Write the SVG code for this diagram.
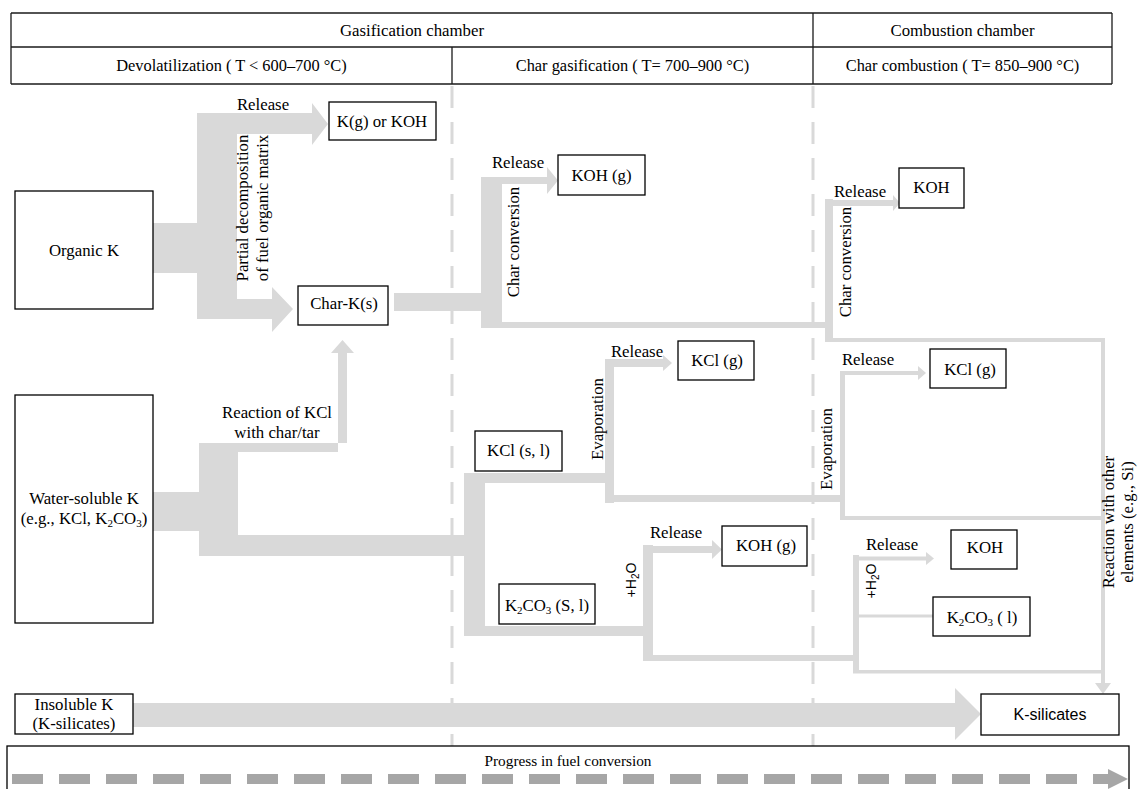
<svg xmlns="http://www.w3.org/2000/svg" width="1138" height="789" viewBox="0 0 1138 789">
  <style>
    .box { fill: #ffffff; stroke: #000000; stroke-width: 1.3; }
    .rule { stroke: #1a1a1a; stroke-width: 1.3; fill: none; }
    .flow { fill: #d9d9d9; stroke: none; }
    .zone { stroke: #d9d9d9; stroke-width: 3; stroke-dasharray: 22 14; fill: none; }
    .t { font-family: "Liberation Serif", "Times New Roman", serif; font-size: 16.8px; fill: #000; text-anchor: middle; }
    .h2 { font-size: 16.4px; }
    .pg { font-size: 15.3px; }
    .s { font-family: "Liberation Sans", Arial, sans-serif; }
  </style>

  <!-- header table -->
  <g id="header">
    <rect x="11" y="13" width="1101" height="71" fill="#fff" stroke="none"/>
    <line class="rule" x1="11" y1="13" x2="813" y2="13" stroke="#7f7f7f"/>
    <line class="rule" x1="813" y1="13" x2="1112" y2="13"/>
    <line class="rule" x1="11" y1="47" x2="1112" y2="47"/>
    <line class="rule" x1="11" y1="84" x2="1112" y2="84"/>
    <line class="rule" x1="11" y1="13" x2="11" y2="84"/>
    <line class="rule" x1="1112" y1="13" x2="1112" y2="84"/>
    <line class="rule" x1="813" y1="13" x2="813" y2="84"/>
    <line class="rule" x1="452" y1="47" x2="452" y2="84"/>
    <text class="t" x="412" y="36">Gasification chamber</text>
    <text class="t" x="962.5" y="36">Combustion chamber</text>
    <text class="t h2" x="231.5" y="71">Devolatilization ( T &lt; 600–700 °C)</text>
    <text class="t h2" x="632.5" y="71">Char gasification ( T= 700–900 °C)</text>
    <text class="t h2" x="962.5" y="71">Char combustion ( T= 850–900 °C)</text>
  </g>

  <!-- stage boundaries -->
  <g id="zones">
    <line class="zone" x1="452" y1="86" x2="452" y2="746"/>
    <line class="zone" x1="813" y1="86" x2="813" y2="746"/>
  </g>

  <!-- potassium flows -->
  <g id="connectors">
    <!-- organic K: release and char-K -->
    <polygon class="flow" points="153,223 197,223 197,113 312,113 312,103 328,124 312,145 312,134 237,134 237,299 272,299 272,287 293,309 272,332 272,319 197,319 197,273 153,273"/>
    <!-- char-K conversion in gasification -->
    <polygon class="flow" points="394,293 481,293 481,177 547,177 547,167 558,180.5 547,194 547,184 502,184 502,322 832,322 832,328 481,328 481,311 394,311"/>
    <!-- char conversion in combustion -->
    <rect class="flow" x="825" y="199" width="8" height="143"/>
    <rect class="flow" x="825" y="200" width="69" height="6"/>
    <polygon class="flow" points="893,195 900,203 893,211"/>
    <rect class="flow" x="825" y="338" width="280" height="4"/>
    <rect class="flow" x="1101" y="338" width="4" height="346"/>
    <polygon class="flow" points="1095,683 1111,683 1103,694"/>

    <!-- water-soluble K -->
    <polygon class="flow" points="153,492 199,492 199,443 347,443 347,353 354,353 342.5,340 331,353 338,353 338,452 238,452 238,535 464,535 464,556 199,556 199,531 153,531"/>
    <!-- KCl / K2CO3 split -->
    <rect class="flow" x="464" y="473" width="21" height="163"/>
    <rect class="flow" x="464" y="473" width="150" height="10"/>
    <rect class="flow" x="605" y="359" width="9" height="144"/>
    <rect class="flow" x="605" y="359" width="59" height="8"/>
    <polygon class="flow" points="663,355 672,363 663,371"/>
    <rect class="flow" x="605" y="495" width="240" height="7"/>
    <rect class="flow" x="464" y="626" width="189" height="10"/>
    <rect class="flow" x="643" y="545" width="10" height="116"/>
    <rect class="flow" x="643" y="546" width="70" height="7"/>
    <polygon class="flow" points="712,540 722,549.5 712,559"/>
    <rect class="flow" x="643" y="655" width="216" height="6"/>

    <!-- KCl in combustion -->
    <rect class="flow" x="840" y="371" width="5" height="149"/>
    <rect class="flow" x="840" y="371" width="79" height="4"/>
    <polygon class="flow" points="918,366 926,373 918,380"/>
    <rect class="flow" x="840" y="516" width="265" height="4"/>
    <!-- K2CO3 in combustion -->
    <rect class="flow" x="853" y="555" width="6" height="118"/>
    <rect class="flow" x="853" y="556.5" width="74" height="4"/>
    <polygon class="flow" points="926,552 934,558.5 926,565"/>
    <rect class="flow" x="859" y="614.5" width="74" height="3"/>
    <rect class="flow" x="853" y="670" width="252" height="3.5"/>

    <!-- insoluble K -->
    <polygon class="flow" points="133,703 955,703 955,688 981,714 955,740 955,727 133,727"/>

    <!-- flow labels -->
    <text class="t" x="263" y="110">Release</text>
    <text class="t" transform="translate(248,208) rotate(-90)">Partial decomposition</text>
    <text class="t" transform="translate(268,208) rotate(-90)">of fuel organic matrix</text>
    <text class="t" x="518" y="168">Release</text>
    <text class="t" transform="translate(519,242) rotate(-90)">Char conversion</text>
    <text class="t" x="860" y="197">Release</text>
    <text class="t" transform="translate(851,262) rotate(-90)">Char conversion</text>
    <text class="t" x="277" y="418">Reaction of KCl</text>
    <text class="t" x="277" y="438">with char/tar</text>
    <text class="t" x="637" y="357">Release</text>
    <text class="t" transform="translate(603,419) rotate(-90)">Evaporation</text>
    <text class="t" transform="translate(832,449) rotate(-90)">Evaporation</text>
    <text class="t" x="868" y="365">Release</text>
    <text class="t s" style="font-size:14px" transform="translate(636,580) rotate(-90)">+H<tspan dy="3" font-size="10">2</tspan><tspan dy="-3">O</tspan></text>
    <text class="t" x="676" y="538">Release</text>
    <text class="t s" style="font-size:14px" transform="translate(876,581) rotate(-90)">+H<tspan dy="3" font-size="10">2</tspan><tspan dy="-3">O</tspan></text>
    <text class="t" x="892" y="550">Release</text>
    <text class="t" transform="translate(1114,522) rotate(-90)">Reaction with other</text>
    <text class="t" transform="translate(1133,522) rotate(-90)">elements (e.g., Si)</text>
  </g>

  <!-- nodes -->
  <g id="organic-k">
    <rect class="box" x="15" y="191" width="138" height="118"/>
    <text class="t" x="84" y="256">Organic K</text>
  </g>
  <g id="water-soluble-k">
    <rect class="box" x="15" y="395" width="138" height="228"/>
    <text class="t" x="84" y="504">Water-soluble K</text>
    <text class="t" x="84" y="524">(e.g., KCl, K<tspan dy="3" font-size="11">2</tspan><tspan dy="-3">CO</tspan><tspan dy="3" font-size="11">3</tspan><tspan dy="-3">)</tspan></text>
  </g>
  <g id="insoluble-k">
    <rect class="box" x="15" y="694" width="118" height="40"/>
    <text class="t" x="74" y="710">Insoluble K</text>
    <text class="t" x="74" y="729">(K-silicates)</text>
  </g>
  <g id="kg-or-koh">
    <rect class="box" x="329" y="102" width="107" height="38"/>
    <text class="t" x="382" y="127">K(g) or KOH</text>
  </g>
  <g id="char-k">
    <rect class="box" x="298" y="286" width="90" height="39"/>
    <text class="t" x="344" y="309">Char-K(s)</text>
  </g>
  <g id="koh-g-char">
    <rect class="box" x="558" y="155" width="87" height="40"/>
    <text class="t" x="601.5" y="181">KOH (g)</text>
  </g>
  <g id="koh-combustion-char">
    <rect class="box" x="899" y="168" width="65" height="40"/>
    <text class="t" x="931.5" y="193">KOH</text>
  </g>
  <g id="kcl-sl">
    <rect class="box" x="475" y="431" width="87" height="40"/>
    <text class="t" x="518.5" y="456">KCl (s, l)</text>
  </g>
  <g id="kcl-g-gasification">
    <rect class="box" x="678" y="341" width="76" height="39"/>
    <text class="t" x="717" y="366">KCl (g)</text>
  </g>
  <g id="k2co3-sl">
    <rect class="box" x="499" y="584" width="96" height="40"/>
    <text class="t" x="547" y="611">K<tspan dy="3" font-size="11">2</tspan><tspan dy="-3">CO</tspan><tspan dy="3" font-size="11">3</tspan><tspan dy="-3"> (S, l)</tspan></text>
  </g>
  <g id="koh-g-gasification">
    <rect class="box" x="722" y="526" width="85" height="40"/>
    <text class="t" x="766" y="551">KOH (g)</text>
  </g>
  <g id="kcl-g-combustion">
    <rect class="box" x="930" y="349" width="76" height="39"/>
    <text class="t" x="970" y="375">KCl (g)</text>
  </g>
  <g id="koh-combustion">
    <rect class="box" x="951" y="530" width="66" height="39"/>
    <text class="t" x="985" y="553">KOH</text>
  </g>
  <g id="k2co3-l">
    <rect class="box" x="933" y="597" width="97" height="39"/>
    <text class="t" x="982" y="623">K<tspan dy="3" font-size="11">2</tspan><tspan dy="-3">CO</tspan><tspan dy="3" font-size="11">3</tspan><tspan dy="-3"> ( l)</tspan></text>
  </g>
  <g id="k-silicates">
    <rect class="box" x="981" y="694" width="138" height="41"/>
    <text class="t s" style="font-size:16px" x="1050" y="720">K-silicates</text>
  </g>

  <!-- fuel conversion progress bar -->
  <g id="progress">
    <rect class="box" x="7" y="746" width="1122" height="60"/>
    <text class="t pg" x="568" y="766">Progress in fuel conversion</text>
    <line x1="12" y1="779" x2="1108" y2="779" stroke="#a6a6a6" stroke-width="10" stroke-dasharray="31 16"/>
    <polygon points="1108,769 1128,779 1108,789" fill="#a6a6a6"/>
  </g>
</svg>
